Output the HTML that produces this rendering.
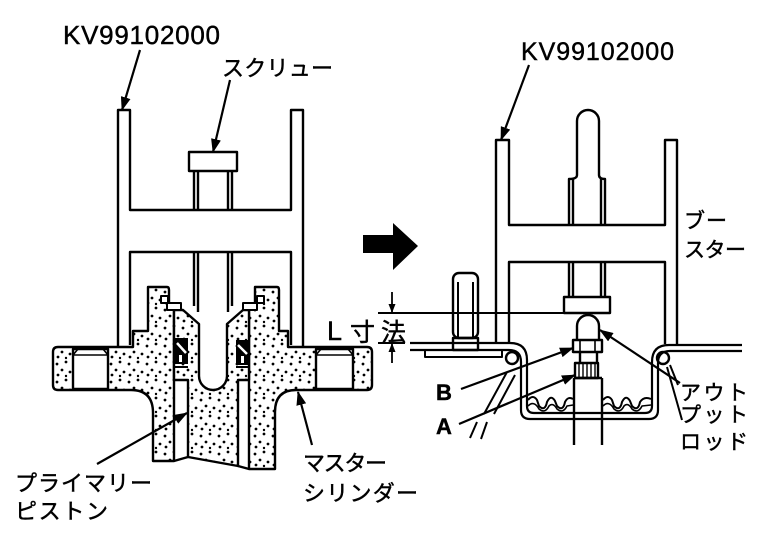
<!DOCTYPE html>
<html><head><meta charset="utf-8">
<style>
html,body{margin:0;padding:0;background:#fff;}
svg{display:block;}
text{font-family:"Liberation Sans","Noto Sans CJK JP",sans-serif;fill:#000;stroke:#000;stroke-width:0.45;}
</style></head><body>
<svg width="768" height="544" viewBox="0 0 768 544" xmlns="http://www.w3.org/2000/svg">
<defs>
<pattern id="dots" width="18" height="18" patternUnits="userSpaceOnUse">
<rect width="18" height="18" fill="#fff"/>
<circle cx="3" cy="4" r="1.4" fill="#000"/>
<circle cx="12" cy="2" r="1.4" fill="#000"/>
<circle cx="8" cy="10" r="1.4" fill="#000"/>
<circle cx="16" cy="12" r="1.4" fill="#000"/>
<circle cx="4" cy="15" r="1.4" fill="#000"/>
<circle cx="12" cy="16" r="1.2" fill="#000"/>
</pattern>
<marker id="ah" markerWidth="14" markerHeight="10" refX="13" refY="5" orient="auto" markerUnits="userSpaceOnUse">
<path d="M0,0 L14,5 L0,10 Z" fill="#000"/>
</marker>
<marker id="ahs" markerWidth="9" markerHeight="7" refX="9" refY="3.5" orient="auto" markerUnits="userSpaceOnUse">
<path d="M0,0 L9,3.5 L0,7 Z" fill="#000"/>
</marker>
</defs>

<!-- ================= LEFT ASSEMBLY ================= -->
<g fill="none" stroke="#000" stroke-width="2.4" stroke-linejoin="round">
  <path d="M118,347 V110 H130 V210 H291 V110 H303 V347"/>
  <path d="M130,345 V252 H291 V345"/>
  <rect x="189" y="152" width="48" height="19"/>
  <path d="M194,171 V210 M198,171 V210 M228,171 V210 M232,171 V210"/>
  <path d="M194,252 V306 M198,252 V312 M228,252 V312 M232,252 V306"/>

  <path fill="url(#dots)" d="M58,347 H133 V331 H148 V287 H167 Q169,287 169,290 V303 L174,308 V461 H153 V413 Q153,390 131,390 H58 Q53,390 53,385 V352 Q53,347 58,347 Z"/>
  <path fill="url(#dots)" d="M255,287 H277 Q279,287 279,290 V331 H288 V347 H367 Q372,347 372,352 V385 Q372,390 367,390 H296 Q275,390 275,412 V469 H249 V308 L255,303 Z"/>
  <rect x="73" y="349" width="35" height="40" fill="#fff"/>
  <path d="M73,355 H108 M73,355 L78,349 M108,355 L103,349" stroke-width="1.6"/>
  <rect x="316" y="349" width="37" height="40" fill="#fff"/>
  <path d="M316,355 H353 M316,355 L321,349 M353,355 L348,349" stroke-width="1.6"/>
  <rect x="161" y="296" width="7" height="7" fill="#fff" stroke-width="2"/>
  <rect x="257" y="296" width="7" height="7" fill="#fff" stroke-width="2"/>

  <path fill="url(#dots)" d="M174,310 H183 L199,324 V376 A14,14 0 0 0 227,376 V324 L243,310 H249 V380 H238 V466 L188,457 V380 H174 Z"/>
  <rect x="167" y="303" width="14" height="7" fill="#fff" stroke-width="2"/>
  <rect x="243" y="303" width="14" height="7" fill="#fff" stroke-width="2"/>
  <path d="M174,461 L188,457 M238,466 L249,469"/>
  <path d="M174,367 H188 M236,367 H249" stroke-width="2"/>
</g>
<rect x="175" y="338" width="13" height="26" fill="#000"/>
<path d="M177,343 L186,353" stroke="#fff" stroke-width="2.5"/>
<rect x="179" y="355" width="3" height="7" fill="#fff"/>
<rect x="236" y="340" width="13" height="25" fill="#000"/>
<path d="M238,345 L247,354" stroke="#fff" stroke-width="2.5"/>
<rect x="241" y="356" width="3" height="7" fill="#fff"/>

<g stroke="#000" stroke-width="2.2" fill="none">
  <line x1="140" y1="50" x2="122" y2="110" marker-end="url(#ah)"/>
  <line x1="230" y1="80" x2="213" y2="152" marker-end="url(#ah)"/>
  <line x1="97" y1="464" x2="187" y2="413" marker-end="url(#ah)"/>
  <line x1="312" y1="445" x2="298" y2="392" marker-end="url(#ah)"/>
</g>

<polygon points="363,235 393,235 393,223 418,246 393,270 393,253 363,253" fill="#000"/>

<!-- ================= RIGHT ASSEMBLY ================= -->
<g fill="none" stroke="#000" stroke-width="2.4" stroke-linejoin="round">
  <path d="M496,344 V140 H509 V225 H665 V140 H677 V344"/>
  <path d="M509,344 V262 H665 V344"/>
  <path d="M577,175 V121 A11,11 0 0 1 599,121 V175"/>
  <path d="M577,175 Q577,179 569,179 V225 M599,175 Q599,179 605,179 V225"/>
  <path d="M573,179 V225 M601,179 V225"/>
  <path d="M569,262 V297 M573,262 V297 M601,262 V297 M605,262 V297"/>
  <rect x="564" y="297" width="46" height="16"/>
  <path d="M378,313 H564" stroke-width="2"/>
  <path d="M378,343 H405" stroke-width="2"/>
  <rect x="453" y="273" width="25" height="65" rx="6"/>
  <path d="M458,282 V338 M473,282 V338" stroke-width="2"/>
  <rect x="453" y="338" width="25" height="12"/>
  <path d="M410,343 H510 Q527,343 527,360 V406 Q527,413 534,413 H645 Q652,413 652,406 V362 Q652,345 669,345 H742" stroke-width="2.2"/>
  <path d="M410,350 H509 Q521,350 521,362 V410 Q521,419 530,419 H649 Q658,419 658,410 V363 Q658,351 670,351 H742" stroke-width="2.2"/>
  <path d="M425,350 V357 H502 V350" stroke-width="2"/>
  <circle cx="512" cy="358" r="6"/>
  <circle cx="663" cy="358" r="6"/>
  <path d="M528,400 Q533,394 537,400 L539,406 Q545,412 547,402 Q551,394 555,401 L557,406 Q563,412 565,402 Q568,396 573,399" stroke-width="2"/>
  <path d="M528,406 Q534,400 539,409 Q545,414 549,406 Q553,402 557,409 Q563,414 567,406 L573,405" stroke-width="1.6"/>
  <path d="M603,400 Q608,394 612,400 L614,406 Q620,412 622,402 Q626,394 630,401 L632,406 Q638,412 640,402 Q644,396 651,399" stroke-width="2"/>
  <path d="M603,406 Q609,400 614,409 Q620,414 624,406 Q628,402 632,409 Q638,414 642,406 L651,405" stroke-width="1.6"/>
  <path d="M507,372 L484,414 M515,375 L494,414 M477,422 L470,438 M487,422 L481,439" stroke-width="2"/>
  <path d="M667,367 L682,420 M670,365 L678,385" stroke-width="2"/>
  <path fill="#fff" d="M577,340 V326 A11,11 0 0 1 599,326 V340"/>
  <rect x="573" y="340" width="29" height="12" fill="#fff"/>
  <path d="M580,340 V352 M595,340 V352" stroke-width="1.6"/>
  <path d="M580,352 V363 M597,352 V363"/>
  <rect x="575" y="363" width="23" height="15" fill="#fff"/>
  <path d="M579,364 V377 M583,364 V377 M587,364 V377 M591,364 V377 M595,364 V377" stroke-width="1.4"/>
  <path d="M574,378 V445 M602,378 V445"/>
  <path d="M574,378 H602"/>
</g>

<g stroke="#000" stroke-width="1.8" fill="none">
  <line x1="392" y1="292" x2="392" y2="313" marker-end="url(#ahs)"/>
  <line x1="392" y1="363" x2="392" y2="343" marker-end="url(#ahs)"/>
</g>

<g stroke="#000" stroke-width="2.2" fill="none">
  <line x1="529" y1="65" x2="501" y2="140" marker-end="url(#ah)"/>
  <line x1="461" y1="389" x2="573" y2="348" marker-end="url(#ah)"/>
  <line x1="459" y1="424" x2="575" y2="375" marker-end="url(#ah)"/>
  <line x1="680" y1="383" x2="600" y2="330" marker-end="url(#ah)"/>
</g>

<!-- ================= TEXT ================= -->
<text x="63" y="44" font-size="26" textLength="157">KV99102000</text>
<text x="521" y="60" font-size="25" textLength="153">KV99102000</text>
<text x="222" y="76" font-size="22" textLength="111">スクリュー</text>
<text x="15" y="491" font-size="22" textLength="137">プライマリー</text>
<text x="15" y="519" font-size="22" textLength="93">ピストン</text>
<text x="303" y="471" font-size="22" textLength="84">マスター</text>
<text x="303" y="501" font-size="22" textLength="115">シリンダー</text>
<text x="684" y="228" font-size="21" textLength="43">ブー</text>
<text x="684" y="257" font-size="21" textLength="62">スター</text>
<text x="680" y="400" font-size="21" textLength="68">アウト</text>
<text x="680" y="422" font-size="21" textLength="68">プット</text>
<text x="680" y="449" font-size="21" textLength="68">ロッド</text>
<text x="327" y="340" font-size="27">L</text>
<text x="350" y="341" font-size="25" textLength="56">寸法</text>
<text x="436" y="400" font-size="22" font-weight="bold">B</text>
<text x="436" y="434" font-size="22" font-weight="bold">A</text>
</svg>
</body></html>
